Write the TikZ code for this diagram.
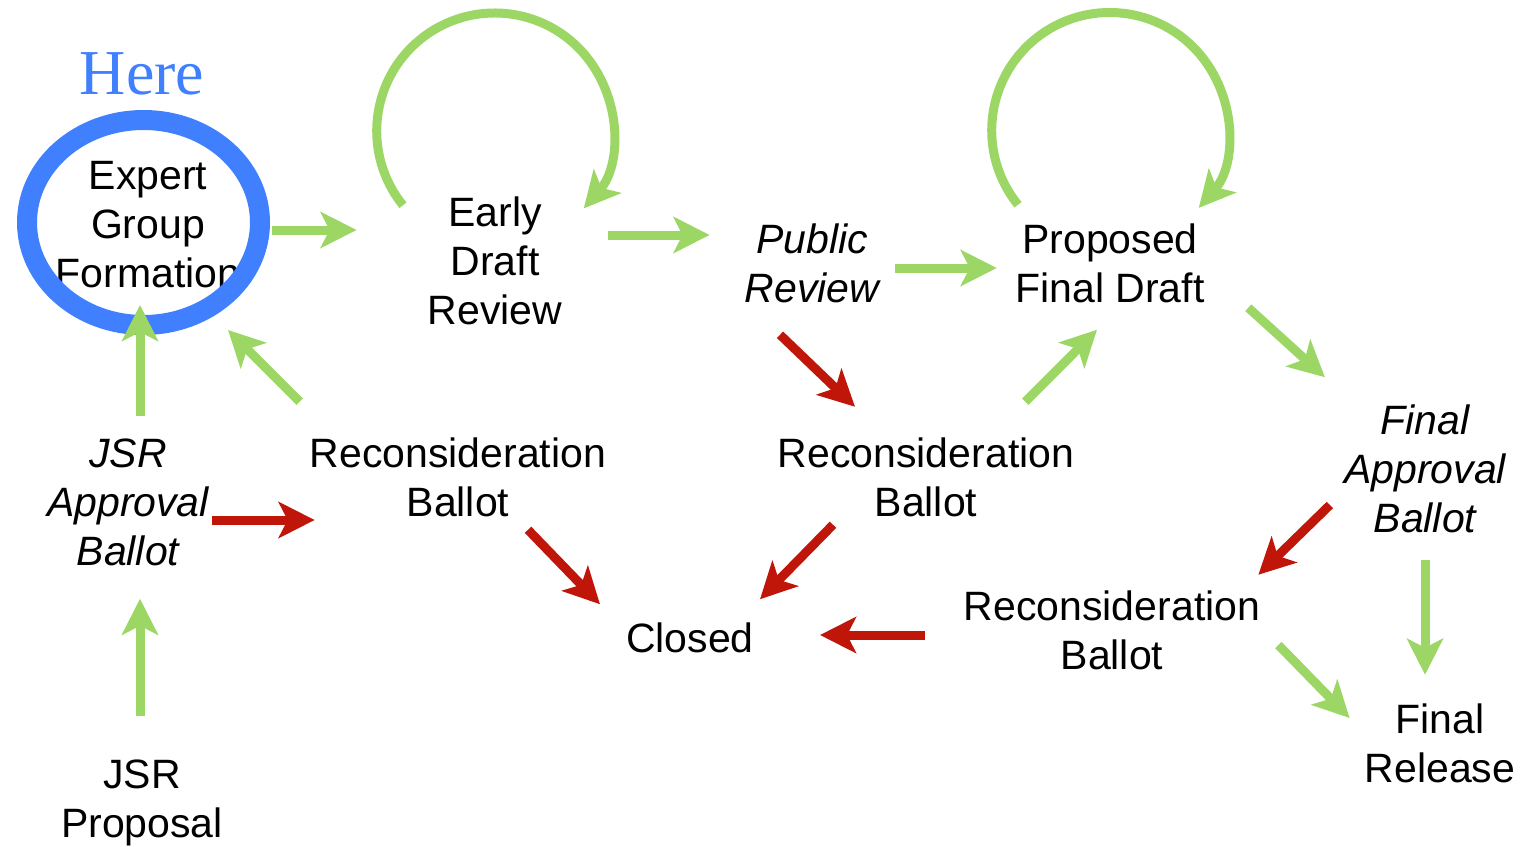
\documentclass[tikz,border=0pt]{standalone}
\usepackage{fontspec}
\setmainfont{Liberation Sans}
\newfontfamily\serifhere{Liberation Serif}
\usetikzlibrary{arrows.meta,calc,shapes.geometric}
\definecolor{passcolor}{RGB}{156,214,100}
\definecolor{failcolor}{RGB}{192,22,10}
\definecolor{herecolor}{RGB}{64,128,255}
\tikzset{
  passln/.style={-{Stealth[length=36pt,width=36pt,inset=9pt]}, line width=9pt, passcolor},
  failln/.style={-{Stealth[length=36pt,width=36pt,inset=9pt]}, line width=9pt, failcolor},
  stage/.style={align=center, inner sep=0pt, font=\fontsize{41}{49}\selectfont},
  istage/.style={stage, font=\fontsize{41}{49}\selectfont\itshape},
}

\begin{document}
\begin{tikzpicture}[x=1pt, y=-1pt]
    \useasboundingbox (0,0) rectangle (1522,846);
    % stages
    \node[stage] (egf) at (148,225) {Expert\\Group\\Formation};
    \node[stage] (edr) at (495,261) {Early\\Draft\\Review};
    \node[istage] (pubrev) at (812,263) {Public\\Review};
    \node[stage] (pfd) at (1110,263) {Proposed\\Final Draft};
    \node[istage] (jsrab) at (128,502) {JSR\\Approval\\Ballot};
    \node[stage] (recA) at (458,477) {Reconsideration\\Ballot};
    \node[stage] (recB) at (926,477) {Reconsideration\\Ballot};
    \node[istage] (fab) at (1425,469) {Final\\Approval\\Ballot};
    \node[stage] (recC) at (1112,630) {Reconsideration\\Ballot};
    \node[stage] (closed) at (690,638) {Closed};
    \node[stage] (jsrp) at (142,802.5) {JSR\\Proposal};
    \node[stage] (frel) at (1440,743) {Final\\Release};
    % marker
    \node[draw=herecolor, line width=20pt, ellipse, inner sep=0pt,
      minimum width=233pt, minimum height=205pt] (ring) at (143.5,222.5) {};
    \node[herecolor, inner sep=0pt, font=\serifhere\fontsize{64}{70}\selectfont]
      (here) at (142,74) {Here};
    % forward steps
    \draw[passln] ($(ring.east)+(2,7.5)$) -- ($(edr.west)+(-71,-31)$);
    \draw[passln] ($(edr.east)+(46,-26)$) -- ($(pubrev.west)+(-35,-28)$);
    \draw[passln] ($(pubrev.east)+(16,5)$) -- ($(pfd.west)+(-18.5,5)$);
    \draw[passln] ($(pfd.south east)+(43.5,5)$) -- ($(fab.north west)+(-19,-27.5)$);
    \draw[passln] ($(recB.north east)+(-49,-35.5)$) -- ($(pfd.south)+(-13,27)$);
    \draw[passln] ($(recA.north west)+(-10,-35.5)$) -- ($(ring.south)+(84.5,-5)$);
    \draw[passln] ($(jsrab.north)+(12,-22.5)$) -- ($(ring.south)+(-3.5,-30)$);
    \draw[passln] ($(jsrp.north)+(-2,-43.5)$) -- ($(jsrab.south)+(12,33)$);
    \draw[passln] ($(fab.south)+(0,27)$) -- ($(frel.north)+(-15,-28.5)$);
    \draw[passln] ($(recC.east)+(18,15)$) -- ($(frel.west)+(-15,-25)$);
    % revision loops
    \draw[passln] ($(edr.north)+(-92,8.5)$) arc[start angle=219, end angle=-41, radius=118pt];
    \draw[passln] ($(pfd.north)+(-92,-18.5)$) arc[start angle=219, end angle=-41, radius=118pt];
    % failed ballots
    \draw[failln] ($(jsrab.east)+(3,18)$) -- ($(recA.west)+(5,43)$);
    \draw[failln] ($(pubrev.south)+(-32,32)$) -- ($(recB.north)+(-71,-30.5)$);
    \draw[failln] ($(recA.south)+(70,13)$) -- ($(closed.north west)+(-26,-18.5)$);
    \draw[failln] ($(recB.south)+(-93,8)$) -- ($(closed.north east)+(6,-23.5)$);
    \draw[failln] ($(recC.west)+(-39,5)$) -- ($(closed.east)+(66,-3)$);
    \draw[failln] ($(fab.west)+(-14,36)$) -- ($(recC.north east)+(-2,-15.5)$);
  \end{tikzpicture}
\end{document}
